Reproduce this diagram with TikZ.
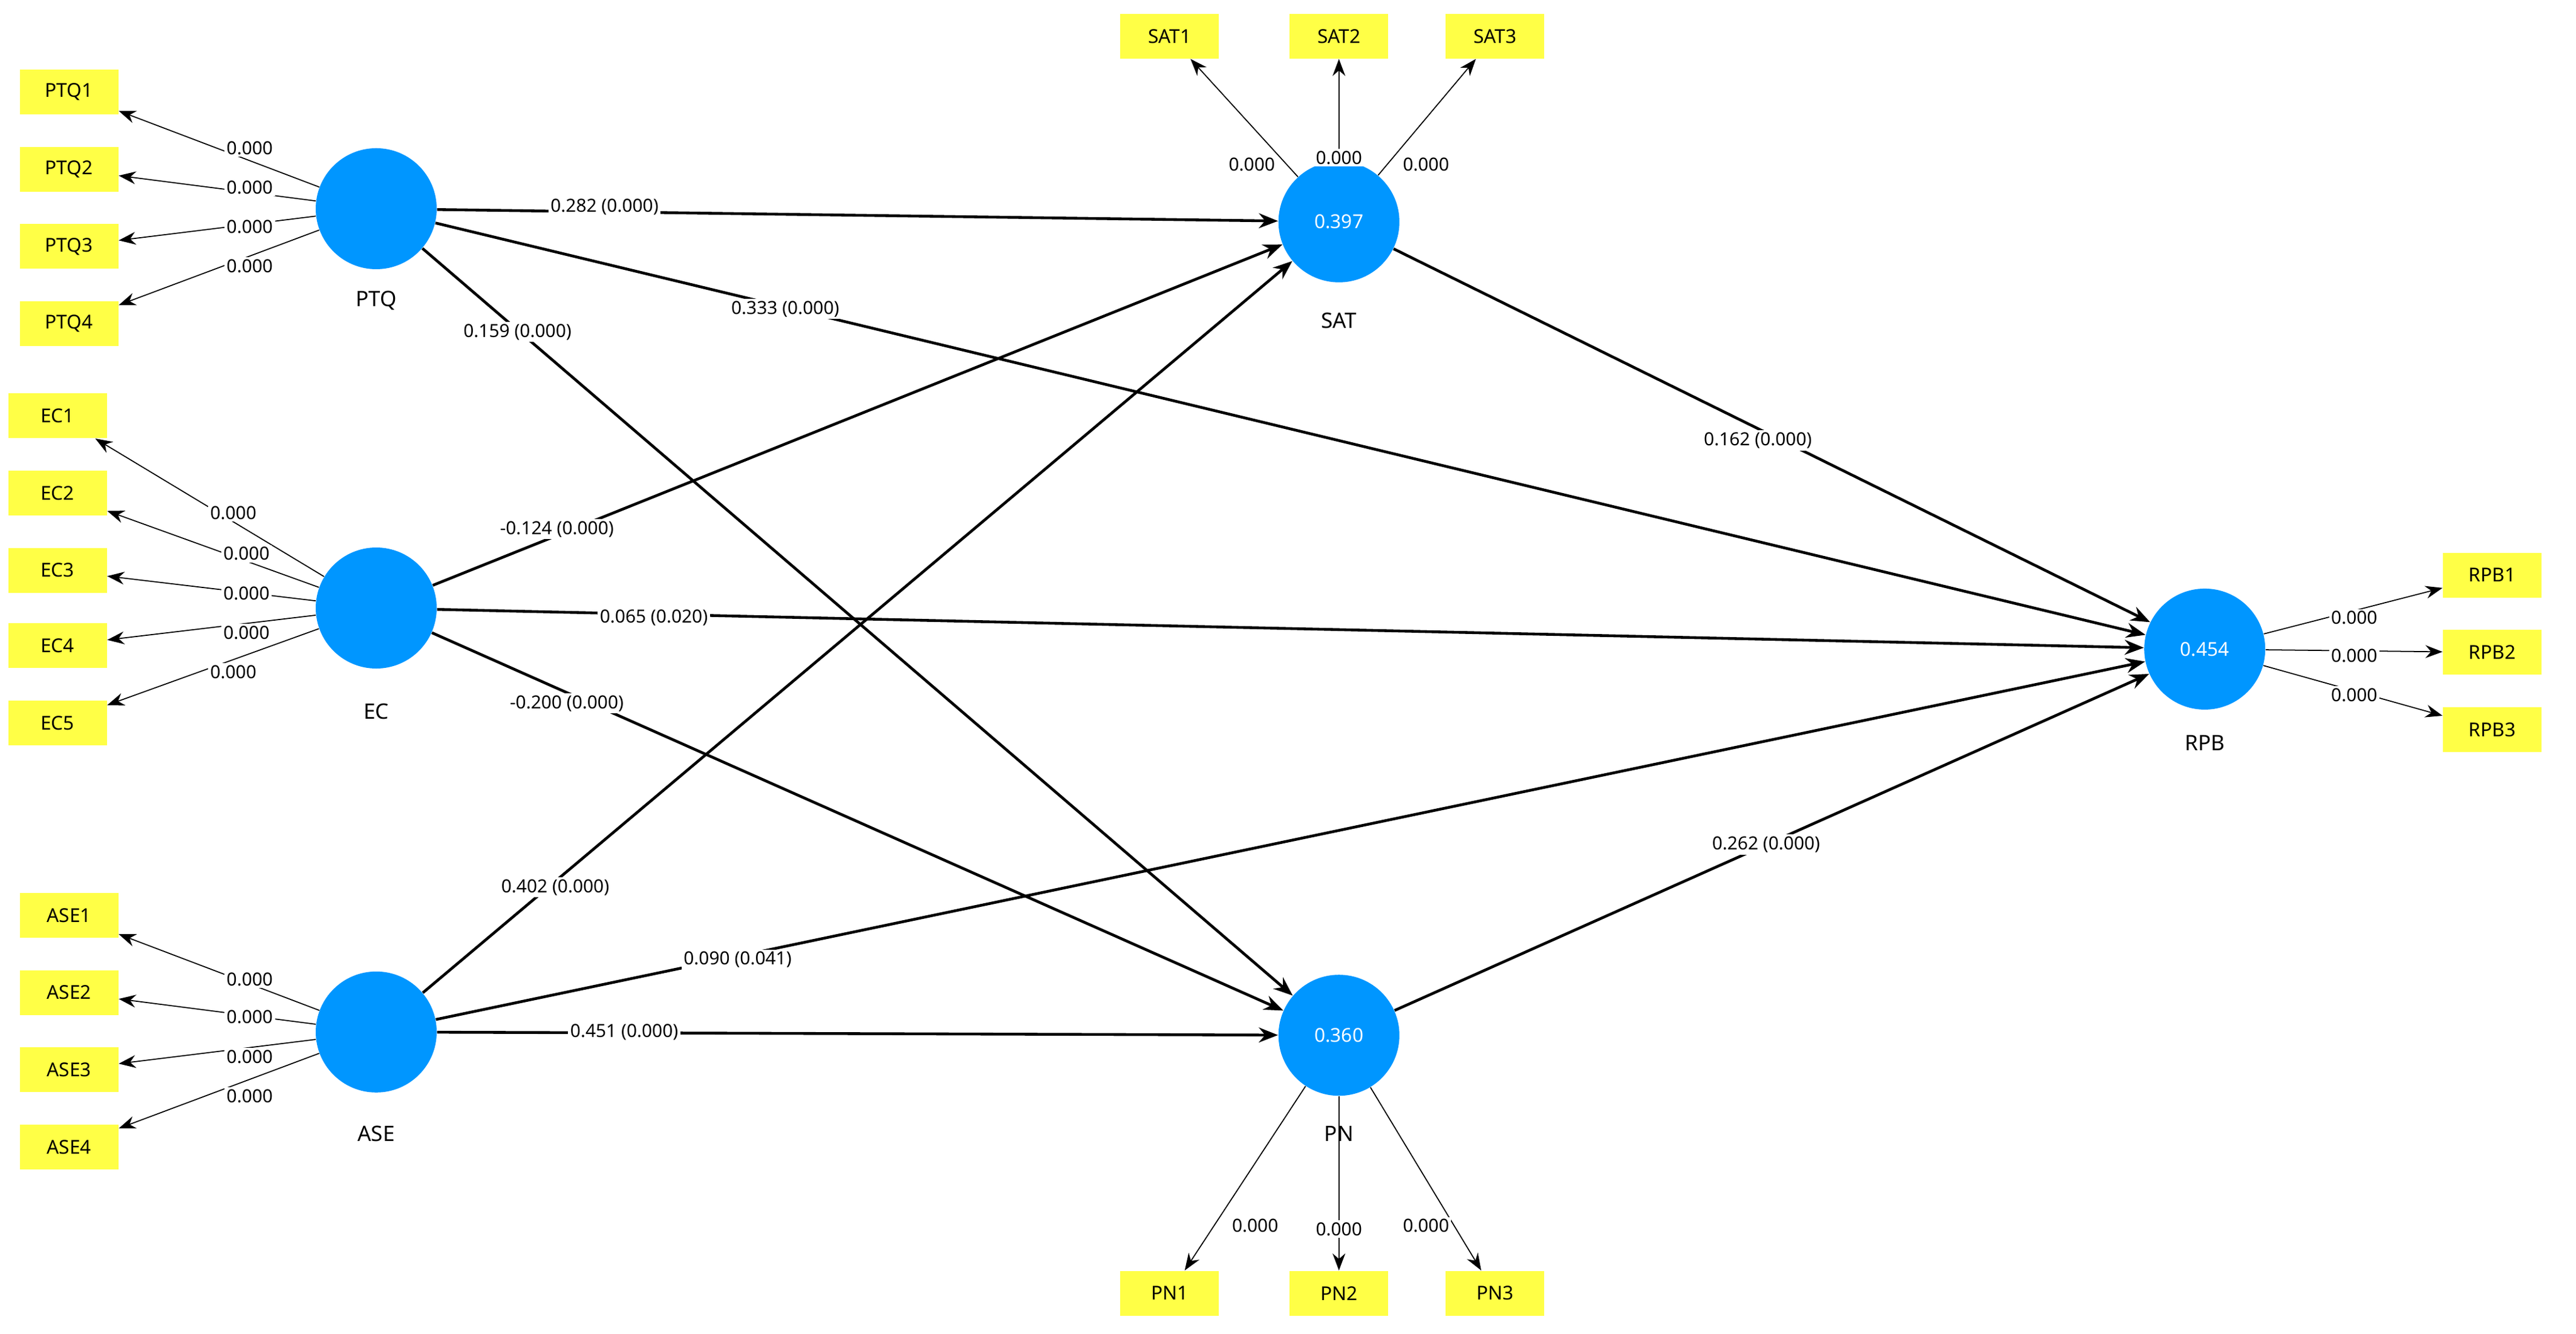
\documentclass[tikz,border=0pt]{standalone}
\usepackage{fontspec}
\setmainfont{Noto Sans}
\usetikzlibrary{arrows.meta}
\definecolor{lv}{RGB}{0,150,255}
\definecolor{ind}{RGB}{255,255,70}
\begin{document}
\begin{tikzpicture}[x=0.02716cm,y=-0.02716cm,
 lat/.style={circle,fill=lv,minimum size=2.0cm,inner sep=0pt,text=white,font=\fontsize{9}{10}\selectfont\bfseries},
 box/.style={rectangle,fill=ind,minimum width=1.63cm,minimum height=0.74cm,inner sep=0pt,font=\fontsize{9}{10}\selectfont},
 nm/.style={font=\fontsize{10}{12}\selectfont\bfseries},
 lab/.style={fill=white,inner sep=1pt,font=\fontsize{8.5}{10}\selectfont},
 arr/.style={-{Stealth[length=9pt,width=7pt]},line width=1.3pt},
 ld/.style={-{Stealth[length=8pt,width=6pt]},line width=0.5pt}]
\useasboundingbox (0,0) rectangle (1568,811.5);
\node[lat] (PTQ) at (229,127) {};
\node[lat] (EC) at (229,370) {};
\node[lat] (ASE) at (229,628) {};
\node[lat] (SAT) at (815,135) {0.397};
\node[lat] (PN) at (815,630) {0.360};
\node[lat] (RPB) at (1342,395) {0.454};
\node[nm] at (229,183) {PTQ};
\node[nm] at (229,433) {EC};
\node[nm] at (229,690) {ASE};
\node[nm] at (815,195) {SAT};
\node[nm] at (815,690) {PN};
\node[nm] at (1342,452) {RPB};
% indicators
\foreach \n/\y in {1/56,2/103,3/150,4/197} \node[box] (PTQ\n) at (42,\y) {PTQ\n};
\foreach \n/\y in {1/253,2/300,3/347,4/393,5/440} \node[box] (EC\n) at (35,\y) {EC\n};
\foreach \n/\y in {1/557,2/604,3/651,4/698} \node[box] (ASE\n) at (42,\y) {ASE\n};
\foreach \n/\x in {1/712,2/815,3/910} \node[box] (SAT\n) at (\x,22) {SAT\n};
\foreach \n/\x in {1/712,2/815,3/910} \node[box] (PN\n) at (\x,787) {PN\n};
\foreach \n/\y in {1/350,2/397,3/444} \node[box] (RPB\n) at (1517,\y) {RPB\n};
% loadings
\foreach \n in {1,...,4} \draw[ld] (PTQ) -- (PTQ\n);
\foreach \n in {1,...,5} \draw[ld] (EC) -- (EC\n);
\foreach \n in {1,...,4} \draw[ld] (ASE) -- (ASE\n);
\foreach \n in {1,...,3} {\draw[ld] (SAT) -- (SAT\n); \draw[ld] (PN) -- (PN\n); \draw[ld] (RPB) -- (RPB\n);}
\foreach \y in {90,114,138,162} \node[lab] at (152,\y) {0.000};
\foreach \x/\y in {142/312,150/337,150/361,150/385,142/409} \node[lab] at (\x,\y) {0.000};
\foreach \y in {596,619,643,667} \node[lab] at (152,\y) {0.000};
\foreach \x/\y in {762/100,815/96,868/100} \node[lab] at (\x,\y) {0.000};
\foreach \x/\y in {764/746,815/748,868/746} \node[lab] at (\x,\y) {0.000};
\foreach \y in {376,399,423} \node[lab] at (1433,\y) {0.000};
% paths
\draw[arr] (PTQ) -- (SAT);
\draw[arr] (PTQ) -- (RPB);
\draw[arr] (PTQ) -- (PN);
\draw[arr] (EC) -- (SAT);
\draw[arr] (EC) -- (RPB);
\draw[arr] (EC) -- (PN);
\draw[arr] (ASE) -- (SAT);
\draw[arr] (ASE) -- (RPB);
\draw[arr] (ASE) -- (PN);
\draw[arr] (SAT) -- (RPB);
\draw[arr] (PN) -- (RPB);
\node[lab] at (368,126) {0.282 (0.000)};
\node[lab] at (478,188) {0.333 (0.000)};
\node[lab] at (315,202) {0.159 (0.000)};
\node[lab] at (339,322) {-0.124 (0.000)};
\node[lab] at (398,376) {0.065 (0.020)};
\node[lab] at (345,428) {-0.200 (0.000)};
\node[lab] at (338,540) {0.402 (0.000)};
\node[lab] at (449,584) {0.090 (0.041)};
\node[lab] at (380,628) {0.451 (0.000)};
\node[lab] at (1070,268) {0.162 (0.000)};
\node[lab] at (1075,514) {0.262 (0.000)};
\end{tikzpicture}
\end{document}
